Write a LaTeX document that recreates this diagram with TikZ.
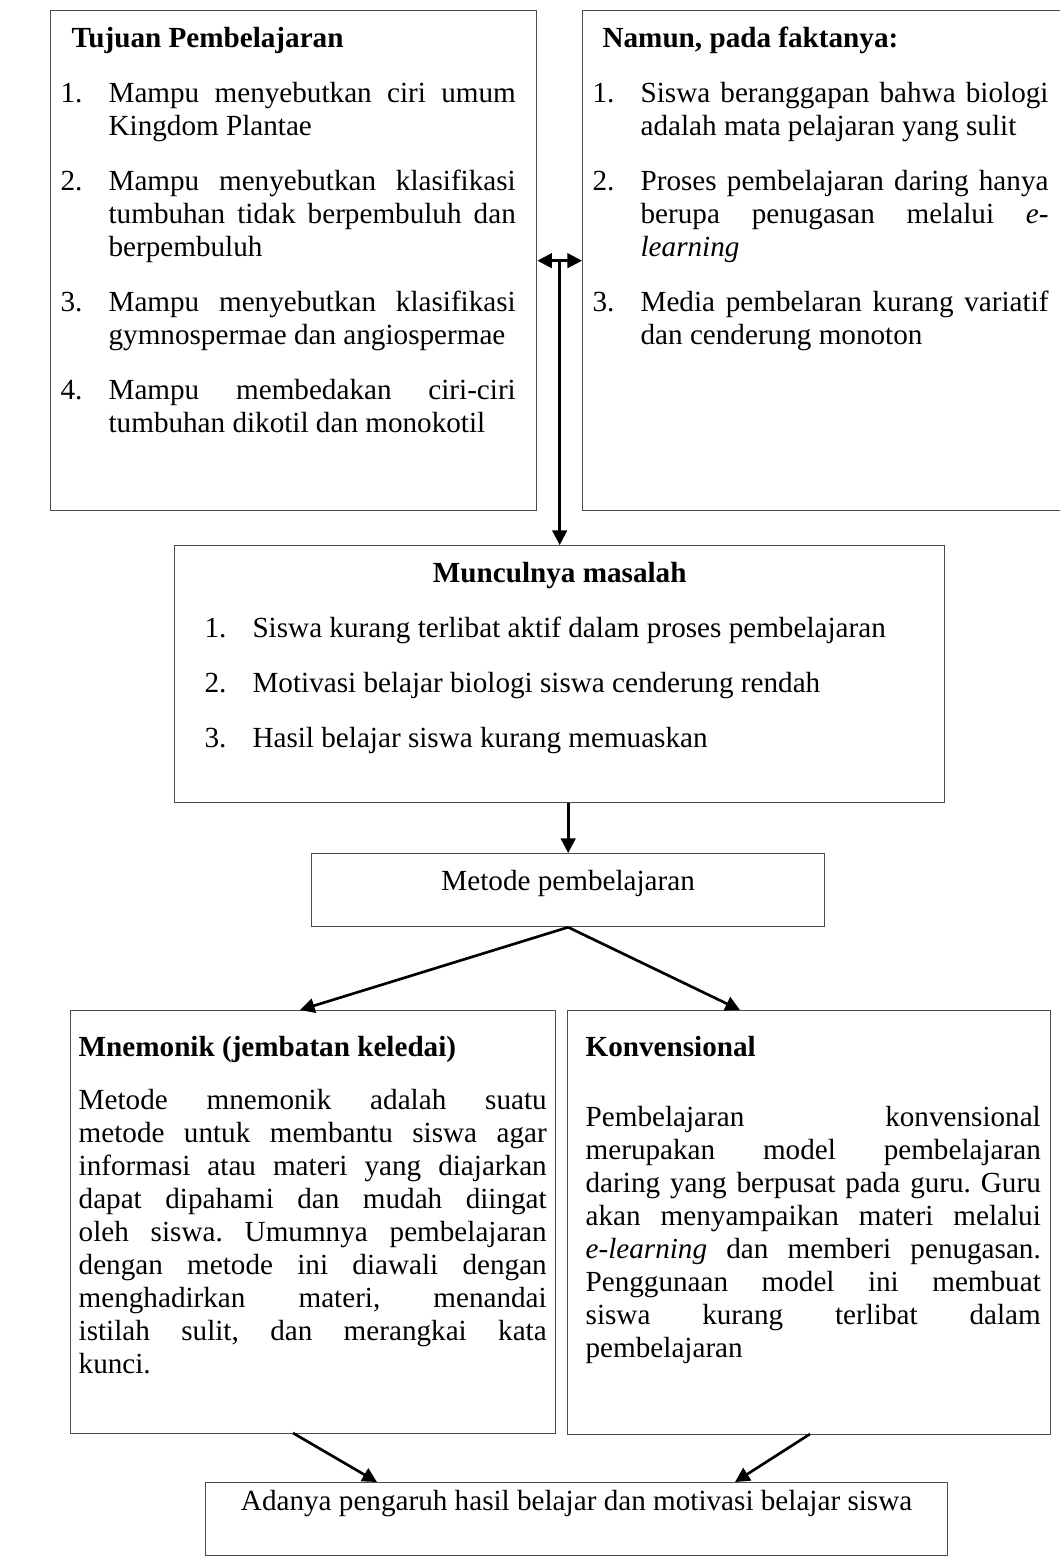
\documentclass[tikz,border=0pt]{standalone}
\usepackage{fontspec}
\setmainfont{Liberation Serif}
\usetikzlibrary{arrows.meta,calc}

\newcommand{\butir}[2]{\par\hangindent=19.75pt\hangafter=1\noindent\makebox[19.75pt][l]{#1}#2\par}

\begin{document}
\frenchspacing
\begin{tikzpicture}[x=0.4115pt, y=-0.4115pt,
  kotak/.style={draw=black!70, line width=0.55pt, inner sep=0pt, anchor=north west,
    font=\fontsize{12}{13.6}\selectfont},
  panah/.style={-{Triangle[length=6pt,width=6pt]}, line width=1.1pt},
  panahdua/.style={{Triangle[length=6pt,width=6pt]}-{Triangle[length=6pt,width=6pt]}, line width=1.1pt}]
% Ukuran gambar
\useasboundingbox (0,0) rectangle (1060,1567);
\clip (0,0) rectangle (1060,1567);
% Kotak atas
\node[kotak] (tujuan) at (50,10) {\parbox[c][205.75pt][t]{200pt}{%
  \leftskip=4.1pt \rightskip=8.6pt \parskip=9pt
  \rule{0pt}{15.2pt}\hspace*{4.5pt}\textbf{Tujuan Pembelajaran}\par
  \butir{1.}{Mampu menyebutkan ciri umum\linebreak Kingdom Plantae}
  \butir{2.}{Mampu menyebutkan klasifikasi\linebreak tumbuhan tidak berpembuluh dan\linebreak berpembuluh}
  \butir{3.}{Mampu menyebutkan klasifikasi\linebreak gymnospermae dan angiospermae}
  \butir{4.}{Mampu membedakan ciri-ciri\linebreak tumbuhan dikotil dan monokotil}}};
\node[kotak] (fakta) at (582,10) {\parbox[c][205.75pt][t]{197.5pt}{%
  \leftskip=4.1pt \rightskip=5.8pt \parskip=9pt
  \rule{0pt}{15.2pt}\hspace*{4.1pt}\textbf{Namun, pada faktanya:}\par
  \butir{1.}{Siswa beranggapan bahwa biologi\linebreak adalah mata pelajaran yang sulit}
  \butir{2.}{Proses pembelajaran daring hanya\linebreak berupa penugasan melalui \textit{e-}\linebreak\textit{learning}}
  \butir{3.}{Media pembelaran kurang variatif\linebreak dan cenderung monoton}}};
% Masalah dan metode
\node[kotak] (muncul) at (174,545) {\parbox[c][105.75pt][t]{316.9pt}{%
  \parskip=9pt
  {\centering\rule{0pt}{15.2pt}\textbf{Munculnya masalah}\par}
  \leftskip=12.3pt
  \butir{1.}{Siswa kurang terlibat aktif dalam proses pembelajaran}
  \butir{2.}{Motivasi belajar biologi siswa cenderung rendah}
  \butir{3.}{Hasil belajar siswa kurang memuaskan}}};
\node[kotak] (metode) at (311,853) {\parbox[c][30pt][t]{211.1pt}{%
  \centering\rule{0pt}{15.2pt}Metode pembelajaran}};
% Kotak bawah
\node[kotak] (mnemonik) at (70,1010) {\parbox[c][174.1pt][t]{199.6pt}{%
  \leftskip=3.3pt \rightskip=3.7pt \parskip=8.2pt
  \rule{0pt}{18.9pt}\textbf{Mnemonik (jembatan keledai)}\par
  Metode mnemonik adalah suatu\linebreak metode untuk membantu siswa agar\linebreak
  informasi atau materi yang diajarkan\linebreak dapat dipahami dan mudah diingat\linebreak
  oleh siswa. Umumnya pembelajaran\linebreak dengan metode ini diawali dengan\linebreak
  menghadirkan materi, menandai\linebreak istilah sulit, dan merangkai kata\linebreak kunci.}};
\node[kotak] (konvensional) at (567,1010) {\parbox[c][174.5pt][t]{198.8pt}{%
  \leftskip=7.4pt \rightskip=4.1pt \parskip=15.2pt
  \rule{0pt}{18.9pt}\textbf{Konvensional}\par
  Pembelajaran konvensional\linebreak merupakan model pembelajaran\linebreak
  daring yang berpusat pada guru. Guru\linebreak akan menyampaikan materi melalui\linebreak
  \textit{e-learning} dan memberi penugasan.\linebreak Penggunaan model ini membuat\linebreak
  siswa kurang terlibat dalam\linebreak pembelajaran}};
\node[kotak] (pengaruh) at (205,1482) {\parbox[c][30pt][t]{305.3pt}{%
  \centering\rule{0pt}{11.5pt}Adanya pengaruh hasil belajar dan motivasi belajar siswa}};
% Panah
\coordinate (tengah) at ($(tujuan.east)!0.5!(fakta.west)$);
\coordinate (kiriatas) at (300,1010);
\coordinate (kananatas) at (740,1010);
\coordinate (kiribawah) at (293,1433);
\coordinate (kananbawah) at (810,1434);
\coordinate (akhirkiri) at (377,1482);
\coordinate (akhirkanan) at (735,1482);
\draw[panahdua] (tujuan.east) -- (fakta.west);
\draw[panah] (tengah) -- (tengah |- muncul.north);
\draw[panah] (metode.north |- muncul.south) -- (metode.north);
\draw[panah] (metode.south) -- (kiriatas);
\draw[panah] (metode.south) -- (kananatas);
\draw[panah] (kiribawah) -- (akhirkiri);
\draw[panah] (kananbawah) -- (akhirkanan);
\end{tikzpicture}
\end{document}
